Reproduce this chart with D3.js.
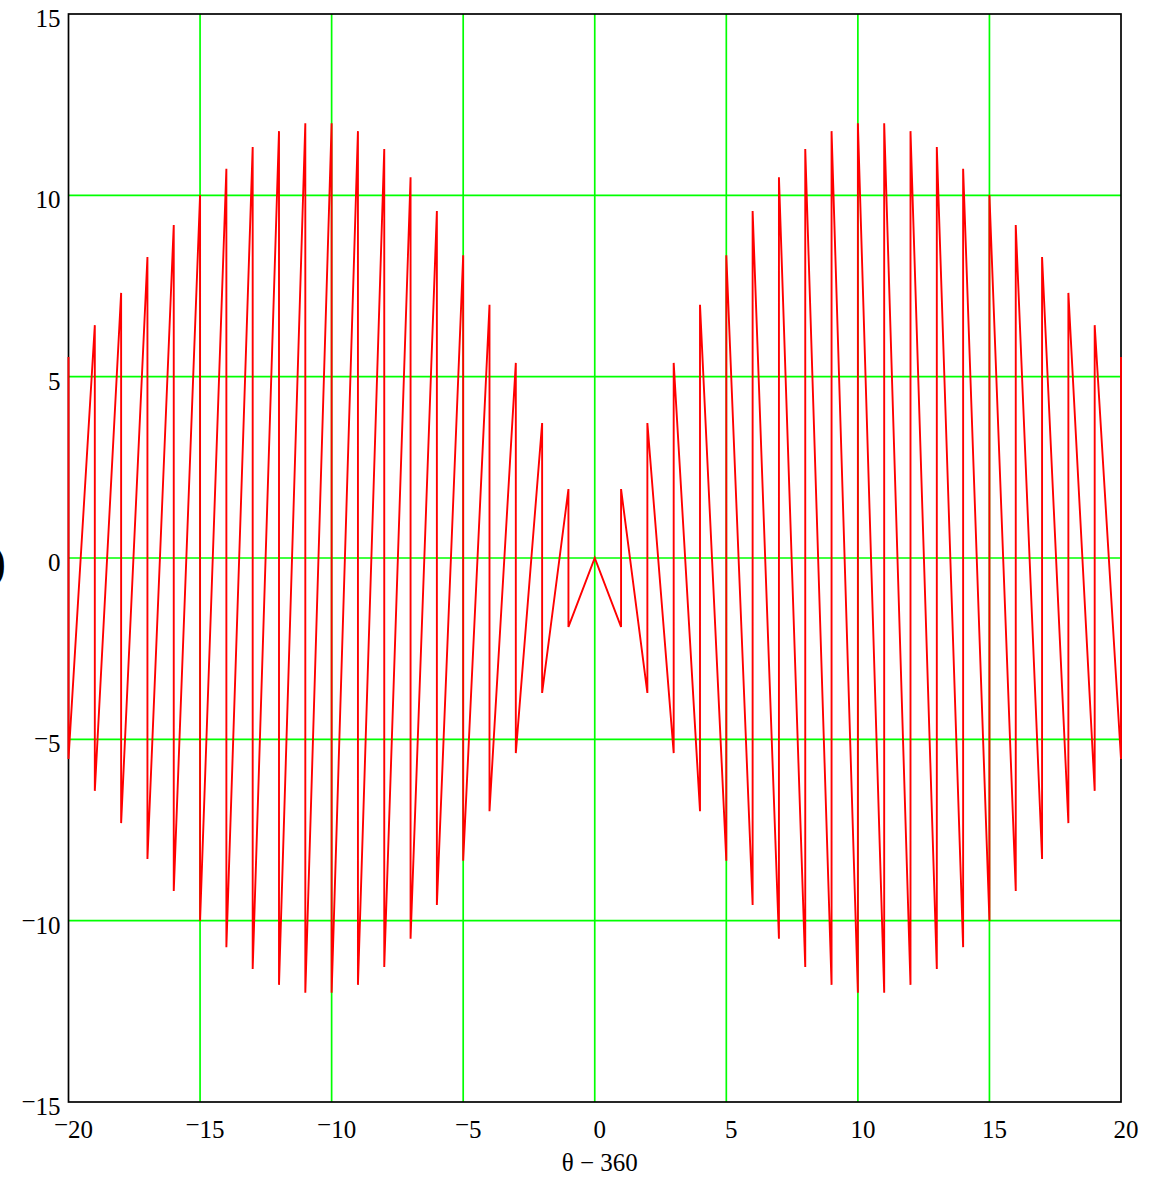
<!DOCTYPE html>
<html>
<head>
<meta charset="utf-8">
<script src="https://cdn.jsdelivr.net/npm/d3@7"></script>
<style>
    body { margin: 0; background: white; }
</style>
</head>
<body>
<div id="vis"></div>
<script>
// theta - 360 sample positions
var offsets = [-20, -19, -18, -17, -16, -15, -14, -13, -12, -11, -10, -9, -8, -7, -6, -5, -4, -3, -2, -1,
    0, 1, 2, 3, 4, 5, 6, 7, 8, 9, 10, 11, 12, 13, 14, 15, 16, 17, 18, 19, 20];

// upper and lower value read at each sample
var upper = [5.54, 6.42, 7.31, 8.30, 9.18, 10.01, 10.73, 11.33, 11.77, 11.99, 11.99, 11.77, 11.28, 10.50, 9.57, 8.35, 6.98, 5.38, 3.72, 1.90,
    0, 1.90, 3.72, 5.38, 6.98, 8.35, 9.57, 10.50, 11.28, 11.77, 11.99, 11.99, 11.77, 11.33, 10.73, 10.01, 9.18, 8.30, 7.31, 6.42, 5.54];
var lower = [-5.54, -6.42, -7.31, -8.30, -9.18, -10.01, -10.73, -11.33, -11.77, -11.99, -11.99, -11.77, -11.28, -10.50, -9.57, -8.35, -6.98, -5.38, -3.72, -1.90,
    0, -1.90, -3.72, -5.38, -6.98, -8.35, -9.57, -10.50, -11.28, -11.77, -11.99, -11.99, -11.77, -11.33, -10.73, -10.01, -9.18, -8.30, -7.31, -6.42, -5.54];

var xTicks = [-20, -15, -10, -5, 0, 5, 10, 15, 20];
var yTicks = [-15, -10, -5, 0, 5, 10, 15];
var xTitle = "\u03b8 \u2212 360";

var width = 1167, height = 1180;
var margin = { top: 14, right: 46, bottom: 78, left: 68.5 };
var fontFamily = "'Liberation Serif', 'Times New Roman', Times, serif";

var svg = d3.select("#vis").append("svg")
    .attr("width", width).attr("height", height)
    .attr("font-family", fontFamily)
    .attr("font-size", 25);

var x = d3.scaleLinear().domain([-20, 20]).range([margin.left, width - margin.right]);
var y = d3.scaleLinear().domain([-15, 15]).range([height - margin.bottom, margin.top]);

//build the trace: down-up pairs left of zero, up-down pairs right of zero
var points = [];
offsets.forEach(function (t, i) {
    if (t < 0) {
        points.push([t, upper[i]], [t, lower[i]]);
    } else if (t == 0) {
        points.push([t, upper[i]]);
    } else {
        points.push([t, lower[i]], [t, upper[i]]);
    }
});

//grid lines (inner ticks only)
svg.append("g").selectAll("line")
    .data(xTicks.filter(d => d > -20 && d < 20))
    .enter().append("line")
    .attr("x1", d => x(d)).attr("x2", d => x(d))
    .attr("y1", y(15)).attr("y2", y(-15))
    .attr("stroke", "#00ff00").attr("stroke-width", 1.7);

svg.append("g").selectAll("line")
    .data(yTicks.filter(d => d > -15 && d < 15))
    .enter().append("line")
    .attr("x1", x(-20)).attr("x2", x(20))
    .attr("y1", d => y(d)).attr("y2", d => y(d))
    .attr("stroke", "#00ff00").attr("stroke-width", 1.7);

//frame
svg.append("rect")
    .attr("x", x(-20)).attr("y", y(15))
    .attr("width", x(20) - x(-20)).attr("height", y(-15) - y(15))
    .attr("fill", "none").attr("stroke", "black").attr("stroke-width", 1.7);

//trace
var line = d3.line().x(d => x(d[0])).y(d => y(d[1]));
svg.append("path")
    .datum(points)
    .attr("d", line)
    .attr("fill", "none")
    .attr("stroke", "#ff0000")
    .attr("stroke-width", 1.9)
    .attr("stroke-linejoin", "miter");

//write a number with a raised minus sign
function numberLabel(sel, v) {
    if (v < 0) {
        sel.append("tspan").attr("dy", -5).text("\u2212");
        sel.append("tspan").attr("dy", 5).text(Math.abs(v));
    } else {
        sel.text(v);
    }
}

//x tick labels
svg.append("g").selectAll("text")
    .data(xTicks)
    .enter().append("text")
    .attr("x", d => x(d) + 5)
    .attr("y", y(-15) + 36)
    .attr("text-anchor", "middle")
    .each(function (d) { numberLabel(d3.select(this), d); });

//y tick labels
svg.append("g").selectAll("text")
    .data(yTicks)
    .enter().append("text")
    .attr("x", x(-20) - 8)
    .attr("y", d => y(d) + 13)
    .attr("text-anchor", "end")
    .each(function (d) { numberLabel(d3.select(this), d); });

//axis title
svg.append("text")
    .attr("x", x(0) + 5)
    .attr("y", 1171)
    .attr("text-anchor", "middle")
    .text(xTitle);

//y title, cut off by the left edge
svg.append("text")
    .attr("x", -10)
    .attr("y", 578)
    .attr("font-size", 48)
    .text(")");
</script>
</body>
</html>
